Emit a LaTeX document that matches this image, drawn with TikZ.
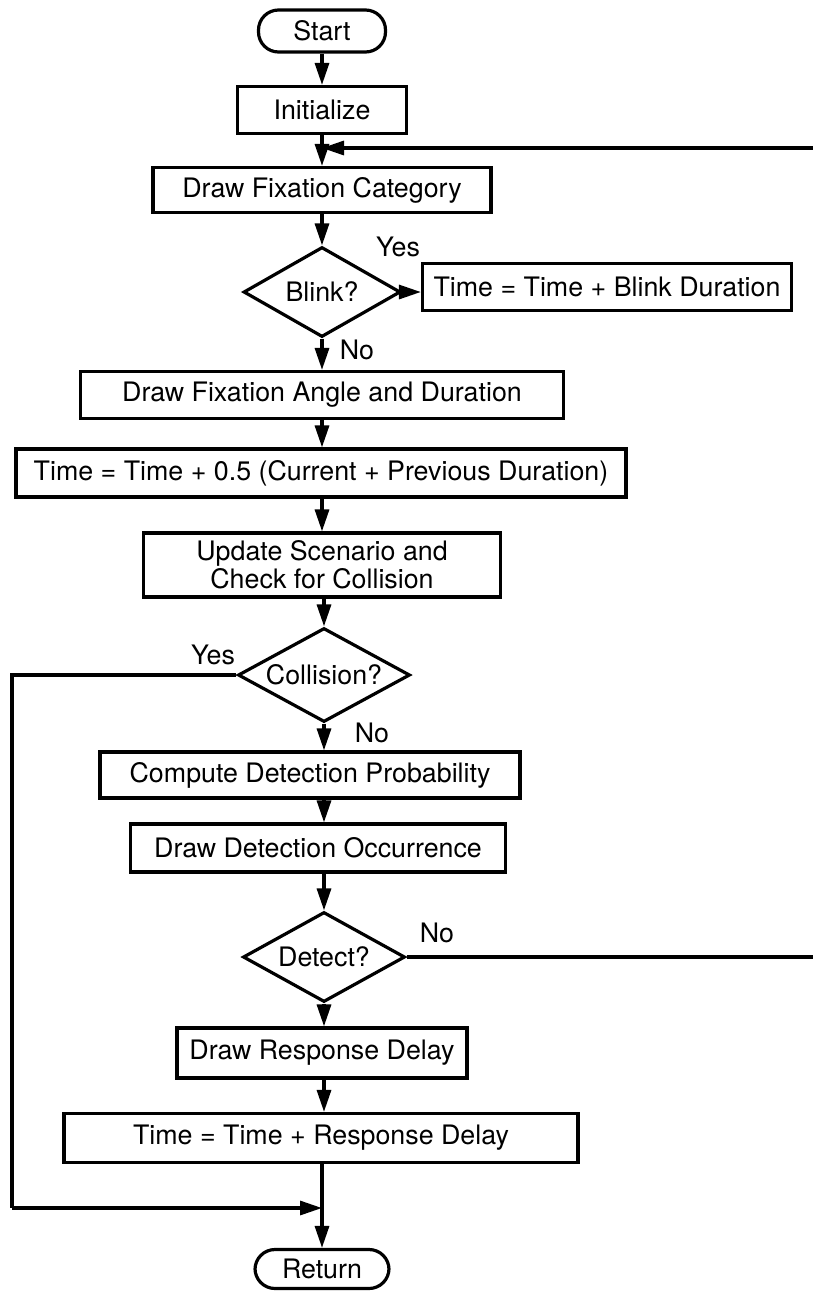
\documentclass[tikz,border=0pt]{standalone}
\usepackage{fontspec}
\setmainfont{TeX Gyre Heros}
\usetikzlibrary{shapes.geometric,arrows.meta}

\begin{document}
\begin{tikzpicture}[x=0.5pt,y=-0.5pt,line width=1.6pt,
    font=\fontsize{13.4}{14}\selectfont,
    box/.style={draw,rectangle,inner sep=2pt,align=center},
    term/.style={draw,rectangle,rounded corners=10pt,inner sep=2pt},
    decide/.style={draw,diamond,aspect=1.8,inner sep=0pt},
    flow/.style={-{Triangle[length=11pt,width=7pt]}}]
                \useasboundingbox (0,0) rectangle (813,1291);

                % top part
                \node[term,minimum width=63.5pt,minimum height=21pt] (start) at (322,31) {Start};
                \node[box,minimum width=84.5pt,minimum height=23.5pt] (init) at (322,110) {Initialize};
                \node[box,minimum width=169pt,minimum height=22.5pt] (dfc) at (322,190) {Draw Fixation Category};
                \node[decide,minimum width=78.5pt,minimum height=45pt] (blink) at (322,292) {Blink?};
                \node[box,minimum width=184.5pt,minimum height=23.5pt] (blinkdur) at (607,287) {Time = Time + Blink Duration};
                \node (yes1) at (398,247) {Yes};
                \node (no1) at (357,350) {No};

                % fixation and time update
                \node[box,minimum width=241.5pt,minimum height=23.5pt] (dfa) at (322,395) {Draw Fixation Angle and Duration};
                \node[box,minimum width=305pt,minimum height=24pt] (halftime) at (321,473) {Time = Time + 0.5 (Current + Previous Duration)};
                \node[box,minimum width=178.5pt,minimum height=32pt] (update) at (322,565) {Update Scenario and\\Check for Collision};
                \node[decide,minimum width=86pt,minimum height=47pt] (coll) at (324,675) {Collision?};
                \node (yes2) at (213,655) {Yes};
                \node (no2) at (372,733) {No};

                % detection
                \node[box,minimum width=210pt,minimum height=23pt] (comp) at (310,775) {Compute Detection Probability};
                \node[box,minimum width=187.5pt,minimum height=24pt] (ddo) at (318,848) {Draw Detection Occurrence};
                \node[decide,minimum width=81pt,minimum height=45pt] (det) at (324,957) {Detect?};
                \node (no3) at (437,933) {No};

                % response
                \node[box,minimum width=145pt,minimum height=25pt] (drd) at (322,1053) {Draw Response Delay};
                \node[box,minimum width=257pt,minimum height=24.5pt] (trd) at (321,1138) {Time = Time + Response Delay};
                \node[term,minimum width=67pt,minimum height=19.5pt] (ret) at (322,1269) {Return};

                % loose ends
                \coordinate (looptop) at (813,148);
                \coordinate (loopdet) at (813,957);
                \coordinate (leftbot) at (12,1208);
                \coordinate (merge) at (322,1208);

                % connectors
                \draw[flow] (start) -- (init);
                \draw[flow] (init) -- (dfc);
                \draw[flow] (looptop) -- (init.south |- looptop);
                \draw[flow] (dfc) -- (blink);
                \draw[flow] (blink.east) -- (blinkdur.west |- blink.east);
                \draw[flow] (blink.south) -- (dfa.north -| blink.south);
                \draw[flow] (dfa) -- (halftime.north -| dfa.south);
                \draw[flow] (halftime.south -| dfa.south) -- (update.north -| dfa.south);
                \draw[flow] (update.south -| coll.north) -- (coll.north);
                \draw (coll.west) -| (leftbot);
                \draw[flow] (leftbot) -- (merge);
                \draw[flow] (coll.south) -- (comp.north -| coll.south);
                \draw[flow] (comp.south -| coll.south) -- (ddo.north -| coll.south);
                \draw[flow] (ddo.south -| det.north) -- (det.north);
                \draw (det.east) -- (loopdet);
                \draw[flow] (det.south) -- (drd.north -| det.south);
                \draw[flow] (drd.south -| det.south) -- (trd.north -| det.south);
                \draw[flow] (trd.south -| ret.north) -- (ret.north);

            \end{tikzpicture}
\end{document}
